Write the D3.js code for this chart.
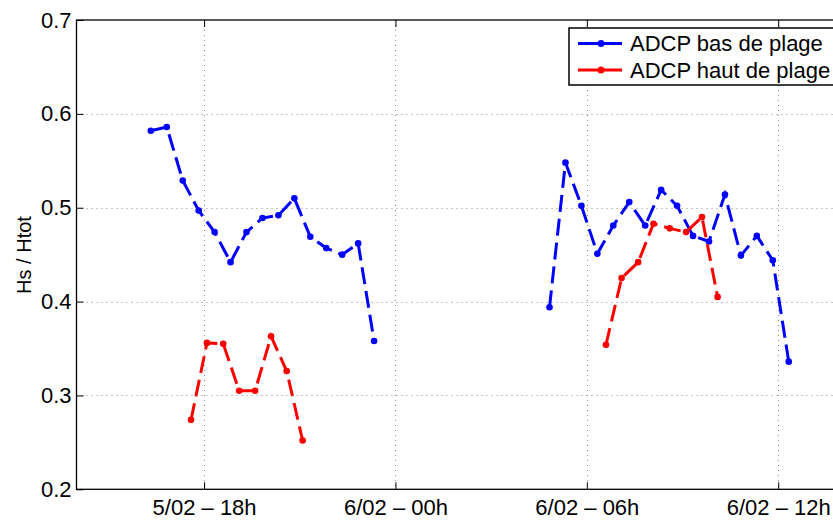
<!DOCTYPE html>
<html>
<head>
<meta charset="utf-8">
<script src="https://cdn.jsdelivr.net/npm/d3@7"></script>
<style>
  html, body { margin: 0; padding: 0; background: #fff; }
  svg { display: block; font-family: "Liberation Sans", Arial, sans-serif; }
</style>
</head>
<body>
<svg id="chart" width="833" height="521"></svg>
<script>
// Time in hours since 5/02 00h
const basTimes = [16.33, 16.83, 17.33, 17.83, 18.33, 18.83, 19.33, 19.83, 20.33, 20.83, 21.33, 21.83, 22.33, 22.83, 23.33,
                  null,
                  28.83, 29.33, 29.83, 30.33, 30.83, 31.33, 31.83, 32.33, 32.83, 33.33, 33.83, 34.33, 34.83, 35.33, 35.83, 36.33];
const basValues = [0.582, 0.586, 0.529, 0.497, 0.474, 0.442, 0.474, 0.489, 0.492, 0.510, 0.469, 0.457, 0.450, 0.462, 0.358,
                   null,
                   0.394, 0.548, 0.502, 0.451, 0.481, 0.506, 0.481, 0.519, 0.502, 0.470, 0.464, 0.514, 0.449, 0.470, 0.444, 0.336];
const hautTimes = [17.59, 18.09, 18.60, 19.10, 19.60, 20.10, 20.59, 21.09,
                   null,
                   30.60, 31.09, 31.61, 32.09, 32.60, 33.11, 33.61, 34.10];
const hautValues = [0.274, 0.356, 0.355, 0.305, 0.305, 0.363, 0.326, 0.252,
                    null,
                    0.354, 0.425, 0.442, 0.483, 0.478, 0.474, 0.490, 0.405];
const xTickValues = [18, 24, 30, 36];
const xTickLabels = ["5/02 \u2013 18h", "6/02 \u2013 00h", "6/02 \u2013 06h", "6/02 \u2013 12h"];
const yTickValues = [0.2, 0.3, 0.4, 0.5, 0.6, 0.7];
const seriesNames = ["ADCP bas de plage", "ADCP haut de plage"];
const seriesColors = ["#0000ff", "#ff0000"];

const svg = d3.select("#chart");
const pL = 76.5, pR = 842, pT = 20, pB = 489.3;
const x = d3.scaleLinear().domain([14, 38]).range([pL, pR]);
const y = d3.scaleLinear().domain([0.2, 0.7]).range([pB, pT]);

const fontSize = 22;

// grid
const grid = svg.append("g");
grid.selectAll("line.gx").data(xTickValues).join("line")
  .attr("x1", d => Math.round(x(d)) + 0.5).attr("x2", d => Math.round(x(d)) + 0.5)
  .attr("y1", pT).attr("y2", pB)
  .attr("stroke", "#8c8c8c").attr("stroke-width", 1).attr("stroke-dasharray", "1,4");
grid.selectAll("line.gy").data(yTickValues.slice(1, -1)).join("line")
  .attr("x1", pL).attr("x2", pR)
  .attr("y1", d => Math.round(y(d)) + 0.5).attr("y2", d => Math.round(y(d)) + 0.5)
  .attr("stroke", "#8c8c8c").attr("stroke-width", 1).attr("stroke-dasharray", "1,4");

// axes
const xAxis = d3.axisBottom(x).tickValues(xTickValues)
  .tickFormat((d, i) => xTickLabels[i]).tickSizeInner(-7).tickSizeOuter(0).tickPadding(10);
const gx = svg.append("g").attr("transform", `translate(0,${pB})`).call(xAxis);
gx.select(".domain").remove();
gx.selectAll("line").attr("stroke", "#000").attr("stroke-width", 1);
gx.selectAll("text").attr("font-size", fontSize).attr("fill", "#000").attr("font-family", "Liberation Sans, Arial, sans-serif");

const xAxisTop = d3.axisTop(x).tickValues(xTickValues).tickFormat("").tickSizeInner(-7).tickSizeOuter(0);
const gxt = svg.append("g").attr("transform", `translate(0,${pT})`).call(xAxisTop);
gxt.select(".domain").remove();
gxt.selectAll("line").attr("stroke", "#000");

const yAxis = d3.axisLeft(y).tickValues(yTickValues).tickFormat(d3.format(".1f"))
  .tickSizeInner(-7).tickSizeOuter(0).tickPadding(5);
const gy = svg.append("g").attr("transform", `translate(${pL},0)`).call(yAxis);
gy.select(".domain").remove();
gy.selectAll("line").attr("stroke", "#000");
gy.selectAll("text").attr("font-size", fontSize).attr("fill", "#000").attr("font-family", "Liberation Sans, Arial, sans-serif");

// frame
svg.append("rect").attr("x", pL).attr("y", pT).attr("width", pR - pL).attr("height", pB - pT)
  .attr("fill", "none").attr("stroke", "#000").attr("stroke-width", 1.3);

// y label
svg.append("text").attr("transform", `translate(31,255) rotate(-90)`)
  .attr("text-anchor", "middle").attr("font-size", 20).attr("fill", "#000").text("Hs / Htot");

// series
const line = d3.line().defined(d => d[1] !== null).x(d => x(d[0])).y(d => y(d[1]));
const series = [
  basTimes.map((t, i) => [t, basValues[i]]),
  hautTimes.map((t, i) => [t, hautValues[i]])
];
series.forEach((data, k) => {
  svg.append("path").datum(data).attr("d", line)
    .attr("fill", "none").attr("stroke", seriesColors[k]).attr("stroke-width", 3)
    .attr("stroke-dasharray", "17,7");
  svg.append("g").selectAll("circle").data(data.filter(d => d[1] !== null)).join("circle")
    .attr("cx", d => x(d[0])).attr("cy", d => y(d[1])).attr("r", 3.3)
    .attr("fill", seriesColors[k]);
});

// legend
const lg = svg.append("g");
lg.append("rect").attr("x", 569).attr("y", 28).attr("width", 272).attr("height", 57)
  .attr("fill", "#fff").attr("stroke", "#000").attr("stroke-width", 1.5);
seriesNames.forEach((name, k) => {
  const cy = 43.5 + k * 26.5;
  lg.append("line").attr("x1", 578).attr("x2", 622).attr("y1", cy).attr("y2", cy)
    .attr("stroke", seriesColors[k]).attr("stroke-width", 3);
  lg.append("circle").attr("cx", 601).attr("cy", cy).attr("r", 3.5).attr("fill", seriesColors[k]);
  lg.append("text").attr("x", 630).attr("y", cy).attr("dy", "0.35em")
    .attr("font-size", fontSize).attr("fill", "#000").text(name);
});
</script>
</body>
</html>
